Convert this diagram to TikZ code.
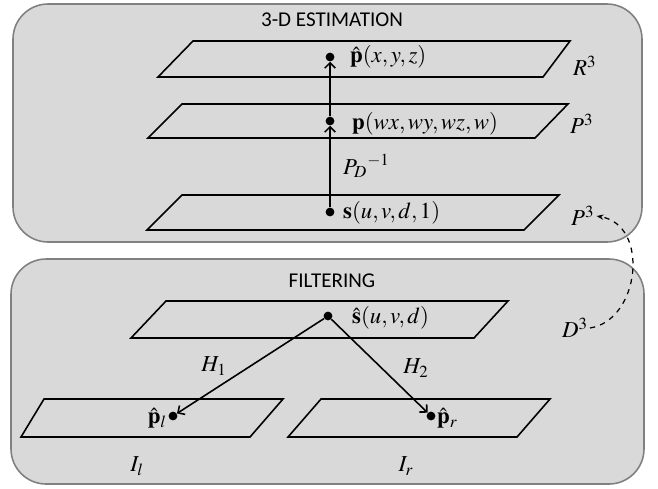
\documentclass[tikz,border=0pt]{standalone}
\usepackage{mathptmx}
\usepackage{fontspec}
\usepackage{xcolor}
\usepackage{tikz}
\usetikzlibrary{arrows.meta}
\newfontfamily\carlito{Carlito}
\definecolor{panelgray}{HTML}{D9D9D9}
\definecolor{panelline}{HTML}{808080}

\begin{document}
\begin{tikzpicture}[
    x=0.02cm, y=-0.02cm,
    panel/.style={draw=panelline, fill=panelgray, line width=0.9pt, rounded corners=20pt},
    plane/.style={draw, line width=0.9pt},
    pt/.style={circle, fill, inner sep=0pt, minimum size=5pt},
    map/.style={draw, line width=0.9pt, -{Straight Barb[length=3pt,width=6pt]}},
    title/.style={font=\carlito\fontsize{12}{14}\selectfont},
    lbl/.style={font=\fontsize{13}{15}\selectfont, inner sep=1pt},
]

\useasboundingbox (0,0) rectangle (658,488);

% Paineis
\draw[panel] (13,4) rectangle (642,242);
\draw[panel] (11,259) rectangle (644,484);
\node[title] (est) at (332,20) {3-D ESTIMATION};
\node[title] (filt) at (332,281) {FILTERING};

% Planos do bloco 3-D
\draw[plane] (158,77) -- (543,77) -- (570,41) -- (193,41) -- cycle;
\draw[plane] (148,138) -- (535,138) -- (568,104) -- (182,104) -- cycle;
\draw[plane] (147,230) -- (524,230) -- (559,195) -- (182,195) -- cycle;

% Planos do bloco de filtragem
\draw[plane] (131,338) -- (474,338) -- (508,301) -- (166,301) -- cycle;
\draw[plane] (21,437) -- (250,437) -- (283,399) -- (44,399) -- cycle;
\draw[plane] (288,437) -- (517,437) -- (550,399) -- (321,399) -- cycle;

% Pontos
\node[pt] (ph) at (330,57) {};
\node[pt] (p) at (330,121) {};
\node[pt] (s) at (330,212) {};
\node[pt] (sh) at (328,316) {};
\node[pt] (pl) at (173,416) {};
\node[pt] (pr) at (431,416) {};

% Rotulos dos pontos
\node[lbl, anchor=west] (phlab) at (348,57) {$\hat{\mathbf{p}}(x, y, z)$};
\node[lbl, anchor=west] (plab) at (350,124) {$\mathbf{p}(wx, wy, wz, w)$};
\node[lbl, anchor=west] (slab) at (341,213) {$\mathbf{s}(u, v, d, 1)$};
\node[lbl, anchor=west] (shlab) at (350,318) {$\hat{\mathbf{s}}(u, v, d)$};
\node[lbl, anchor=east] (pllab) at (169,418) {$\hat{\mathbf{p}}_l$};
\node[lbl, anchor=west] (prlab) at (435,418) {$\hat{\mathbf{p}}_r$};

% Espacos
\node[lbl, anchor=west] (R3) at (571,66) {$R^3$};
\node[lbl, anchor=west] (P3a) at (568,124) {$P^3$};
\node[lbl, anchor=west] (P3b) at (569,216) {$P^3$};
\node[lbl, anchor=west] (D3) at (560,328) {$D^3$};
\node[lbl] (Il) at (137,466) {$I_l$};
\node[lbl] (Ir) at (406,466) {$I_r$};

% Transformacoes
\draw[map] (s) -- (p);
\draw[map] (p) -- (ph);
\draw[map] (sh) -- (pl);
\draw[map] (sh) -- (pr);
\node[lbl, anchor=west] (PD) at (341,166) {${P_D}^{-1}$};
\node[lbl] (H1) at (214,366) {$H_1$};
\node[lbl] (H2) at (416,368) {$H_2$};

% Ligacao D3 -> P3
\draw[dashed, line width=0.7pt, -{Stealth[length=4pt,width=3pt]}]
    (D3.east) .. controls (640,320) and (650,225) .. (P3b.east);

\end{tikzpicture}
\end{document}
